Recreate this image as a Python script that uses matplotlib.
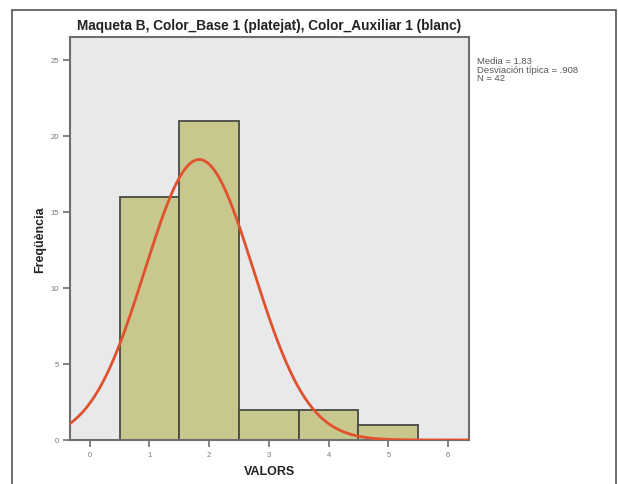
import numpy as np
import matplotlib.pyplot as plt
from matplotlib.patches import Rectangle

# ── Data ─────────────────────────────────────────────────────────────────────
values = [1, 2, 3, 4, 5]
counts = [16, 21, 2, 2, 1]
x_ticks = [0, 1, 2, 3, 4, 5, 6]
y_ticks = [0, 5, 10, 15, 20, 25]

TITLE = "Maqueta B, Color_Base 1 (platejat), Color_Auxiliar 1 (blanc)"

# ── Stats for the fitted normal curve ────────────────────────────────────────
v = np.repeat(values, counts)
n = len(v)
mean = v.mean()
sd = v.std(ddof=1)

# ── Colours ──────────────────────────────────────────────────────────────────
C_BG = "#E7E9EB"
C_BAR = "#C8C78E"
C_EDGE = "#4A4A44"
C_CURVE = "#E0522E"
C_SPINE = "#6E6E6E"

plt.rcParams["font.family"] = ["Liberation Sans", "DejaVu Sans"]

fig = plt.figure(figsize=(6.18, 4.85), dpi=100)
fig.patch.set_facecolor("white")

# outer frame
fig.patches.append(Rectangle((12 / 618, -0.05), 604 / 618, 1 - 11 / 485 + 0.05,
                             transform=fig.transFigure, fill=False,
                             edgecolor="#555555", linewidth=1.2))

ax = fig.add_axes([70 / 618, 1 - 441 / 485, 399 / 618, 403 / 485])
ax.set_facecolor(C_BG)

ax.bar(values, counts, width=1.0, color=C_BAR, edgecolor=C_EDGE,
       linewidth=1.3, zorder=2)

xs = np.linspace(-0.33, 6.35, 400)
ys = n * 1.0 * np.exp(-0.5 * ((xs - mean) / sd) ** 2) / (sd * np.sqrt(2 * np.pi))
ax.plot(xs, ys, color=C_CURVE, linewidth=2.0, zorder=3)

ax.set_xlim(-0.33, 6.35)
ax.set_ylim(0, 26.5)
ax.set_xticks(x_ticks)
ax.set_yticks(y_ticks)
ax.tick_params(direction="out", length=5, width=1.2, color=C_SPINE,
               labelsize=5.5, labelcolor="#777777", pad=3)

for s in ax.spines.values():
    s.set_color(C_SPINE)
    s.set_linewidth(1.5)

ax.set_title(TITLE, fontsize=9.8, fontweight="bold", pad=6, color="#222222")
ax.set_xlabel("VALORS", fontsize=9, fontweight="bold", labelpad=5, color="#222222")
ax.set_ylabel("Freqüència", fontsize=9, fontweight="bold", color="#222222")
ax.yaxis.set_label_coords(-0.06, 0.5)

stats_txt = f"Media = {mean:.2f}\nDesviación típica = {sd:.3f}".replace("0.", ".") + f"\nN = {n}"
fig.text(477 / 618, 1 - 57 / 485, stats_txt, fontsize=6.8, color="#555555",
         va="top", ha="left", linespacing=0.95)

fig.savefig("out.png", dpi=100)
